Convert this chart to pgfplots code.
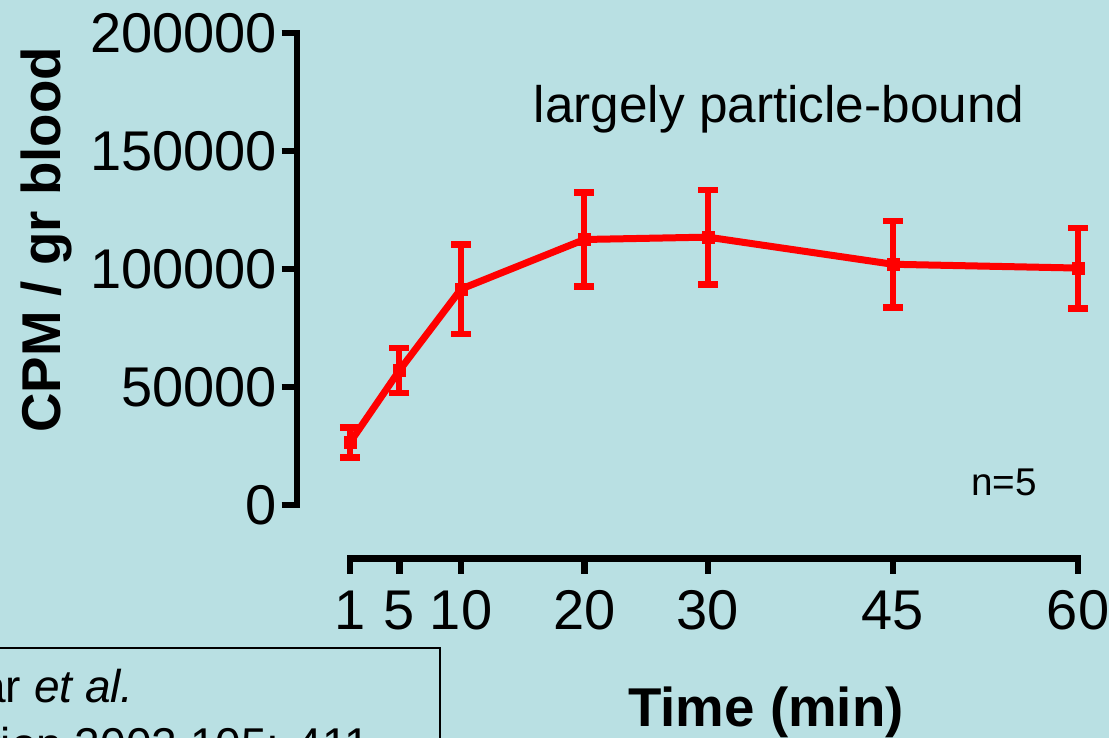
\documentclass[border=0pt]{standalone}
\usepackage{fontspec}
\setmainfont{Liberation Sans}
\usepackage{pgfplots}
\pgfplotsset{compat=1.18}
\definecolor{bg}{RGB}{185,224,227}
\begin{document}
\begin{tikzpicture}[x=1pt,y=1pt]
\fill[bg] (0,0) rectangle (831.75,553.5);
\begin{axis}[
  at={(222.75pt,174.75pt)}, anchor=south west, scale only axis,
  width=585.75pt, height=354pt,
  xmin=-3.295, xmax=60, ymin=0, ymax=200000,
  axis x line=none, axis y line=left,
  y axis line style={-, line width=5pt, line cap=rect},
  ytick={0,50000,100000,150000,200000},
  yticklabels={0,50000,100000,150000,200000},
  scaled y ticks=false,
  xtick=\empty,
  tick align=outside, major tick length=11.5pt,
  ytick style={line width=4.5pt, black},
  yticklabel style={font=\fontsize{42}{42}\selectfont, text=black},
  /pgf/number format/assume math mode=true,
  clip=false,
]
\addplot[red, line width=5.25pt, mark=square*, mark size=4.5pt,
  mark options={solid, fill=red, draw=red, line width=0.5pt},
  error bars/.cd, y dir=both, y explicit,
  error bar style={line width=4.5pt, red},
  error mark options={rotate=90, mark size=7.5pt, line width=5pt, red}]
  table[x=x, y=y, y error=e] {
  x y e
  1 26500 6300
  5 57000 9500
  10 91500 19000
  20 112500 20000
  30 113500 20000
  45 102000 18400
  60 100400 17000
  };
\end{axis}
\begin{axis}[
  at={(262.5pt,134.625pt)}, anchor=south west, scale only axis,
  width=546pt, height=20pt,
  xmin=1, xmax=60, ymin=0, ymax=1,
  axis y line=none, axis x line=bottom,
  x axis line style={-, line width=5pt, line cap=rect},
  xtick={1,5,10,20,30,45,60}, ytick=\empty,
  tick align=outside, major tick length=11.5pt,
  xtick style={line width=5pt, black},
  xticklabel style={font=\fontsize{42}{42}\selectfont, text=black, yshift=-9pt},
  /pgf/number format/assume math mode=true,
]
\end{axis}
\node[anchor=base, font=\fontsize{38.5}{38.5}\selectfont] at (584.25,461.25) {largely particle-bound};
\node[anchor=base, font=\fontsize{29}{29}\selectfont] at (753,181.5) {n=5};
\node[anchor=base, font=\bfseries\fontsize{41}{41}\selectfont] at (574.5,8.25) {Time (min)};
\node[anchor=base, rotate=90, font=\bfseries\fontsize{41}{41}\selectfont] at (45,373.5) {CPM / gr blood};
\draw[line width=1.1pt] (-150,67.5) rectangle (330,-80);
\node[anchor=base west, inner sep=0pt, font=\fontsize{34.5}{34.5}\selectfont] at (-116.5,26.25) {Nemmar \textit{et al.}};
\node[anchor=base west, inner sep=0pt, font=\fontsize{34.5}{34.5}\selectfont] at (-116.5,-16.5) {Circulation 2002 105: 411};
\pgfresetboundingbox
\path[use as bounding box] (0,0) rectangle (831.75,553.5);
\end{tikzpicture}
\end{document}
